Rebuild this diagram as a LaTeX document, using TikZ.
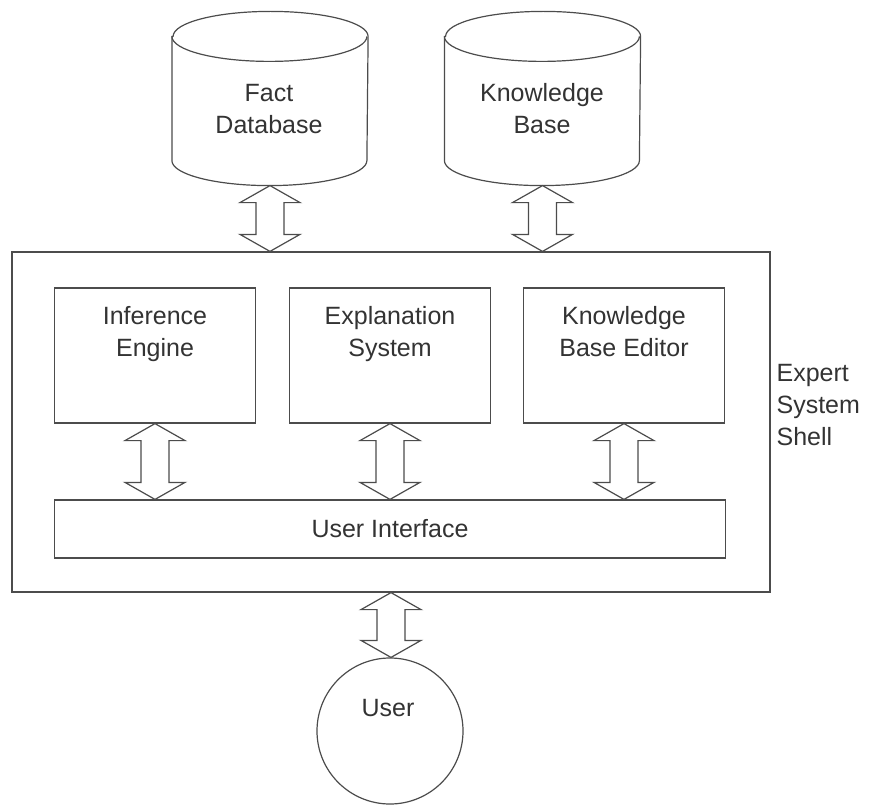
\documentclass[tikz,border=0pt]{standalone}
\usepackage{fontspec}
\setmainfont{Liberation Sans}
\usetikzlibrary{calc}
\tikzset{
  db/.style={minimum width=195pt, minimum height=173pt, inner sep=0pt},
  box/.style={draw, fill=white, inner sep=0pt},
  tag/.style={align=center, inner sep=0pt},
  link/.style={fill=white, line join=miter}
}
\newcommand\drum[1]{%
  \draw[fill=white] ([yshift=-25pt]#1.north west) -- ([yshift=25pt]#1.south west)
    arc[start angle=180, end angle=0, x radius=97.5, y radius=25]
    -- ([yshift=-25pt]#1.north east)
    arc[start angle=0, end angle=-180, x radius=97.5, y radius=25] -- cycle;
  \draw ([yshift=-25pt]#1.north west)
    arc[start angle=180, end angle=0, x radius=97.5, y radius=25];}
\newcommand\twoway[2]{%
  \draw[link] let \p1=(#1), \p2=(#2) in
    (\x1,\y1) -- (\x1+30pt,\y1-17pt) -- (\x1+14pt,\y1-17pt) -- (\x1+14pt,\y2+17pt)
    -- (\x1+30pt,\y2+17pt) -- (\x1,\y2) -- (\x1-30pt,\y2+17pt) -- (\x1-14pt,\y2+17pt)
    -- (\x1-14pt,\y1-17pt) -- (\x1-30pt,\y1-17pt) -- cycle;}

\begin{document}
\begin{tikzpicture}[x=1pt, y=-1pt, line width=1.2pt, color=black!70, text=black!80,
                    font=\fontsize{25}{32}\selectfont]
  \useasboundingbox (0,0) rectangle (877,805);
  \path node (fact)  at (270,98.5)   [db] {}
        node (kb)    at (542.5,98.5) [db] {}
        node (shell) at (391,422)    [box, minimum width=758pt, minimum height=340pt] {}
        node (inf)   at (155,355.5)  [box, minimum width=201pt, minimum height=135pt] {}
        node (expl)  at (390,355.5)  [box, minimum width=201pt, minimum height=135pt] {}
        node (kbe)   at (624,355.5)  [box, minimum width=201pt, minimum height=135pt] {}
        node (ui)    at (390,529)    [box, minimum width=671pt, minimum height=58pt] {User Interface}
        node (user)  at (390,731)    [circle, draw, minimum size=146pt] {};
  \drum{fact}
  \drum{kb}
  \path node (facttxt)  at (269,109)   [tag] {Fact\\Database}
        node (kbtxt)    at (542,109)   [tag] {Knowledge\\Base}
        node (inftxt)   at (155,334.5) [tag] {Inference\\Engine}
        node (expltxt)  at (390,334.5) [tag] {Explanation\\System}
        node (kbetxt)   at (624,332)   [tag] {Knowledge\\Base Editor}
        node (usertxt)  at (388,708)   [tag] {User}
        node (shelltxt) at (776,405)   [tag, align=left, anchor=west] {Expert\\System\\Shell};
  \twoway{fact.south}{shell.north}
  \twoway{kb.south}{shell.north}
  \twoway{inf.south}{ui.north}
  \twoway{expl.south}{ui.north}
  \twoway{kbe.south}{ui.north}
  \twoway{shell.south}{user.north}
\end{tikzpicture}
\end{document}
